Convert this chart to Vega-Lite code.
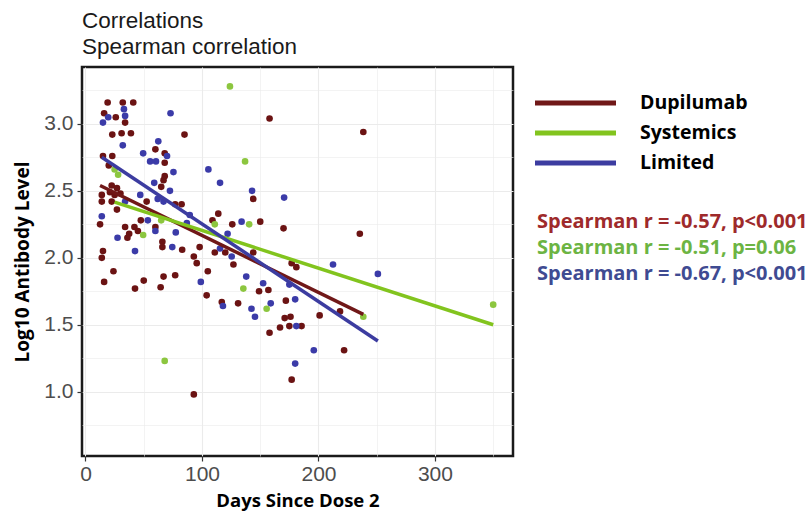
{
  "$schema": "https://vega.github.io/schema/vega-lite/v6.json",
  "width": 431,
  "height": 389,
  "autosize": {"type": "none"},
  "padding": {"left": 82, "top": 67, "right": 297, "bottom": 56},
  "background": "white",
  "title": {
    "text": "Correlations",
    "subtitle": "Spearman correlation",
    "anchor": "start",
    "frame": "group",
    "font": "Liberation Sans",
    "fontSize": 22.5,
    "fontWeight": "normal",
    "color": "#1a1a1a",
    "subtitleFont": "Liberation Sans",
    "subtitleFontSize": 22.5,
    "subtitleColor": "#1a1a1a",
    "subtitlePadding": 3,
    "offset": 9
  },
  "config": {
    "view": {"stroke": "#1a1a1a", "strokeWidth": 2.5},
    "axis": {
      "domain": false,
      "gridColor": "#ebebeb",
      "tickColor": "#333333",
      "tickSize": 5,
      "tickWidth": 1.2,
      "labelFont": "Liberation Sans",
      "labelFontSize": 21,
      "labelColor": "#4d4d4d",
      "titleFont": "Open Sans",
      "titleFontWeight": "bold",
      "titleColor": "#000000"
    }
  },
  "datasets": {
    "pts": [
      {"group": "Dupilumab", "days": 19, "level": 3.16},
      {"group": "Dupilumab", "days": 32, "level": 3.16},
      {"group": "Dupilumab", "days": 41, "level": 3.16},
      {"group": "Dupilumab", "days": 16, "level": 3.08},
      {"group": "Dupilumab", "days": 26, "level": 3.05},
      {"group": "Dupilumab", "days": 34, "level": 3.01},
      {"group": "Dupilumab", "days": 23, "level": 2.92},
      {"group": "Dupilumab", "days": 31, "level": 2.93},
      {"group": "Dupilumab", "days": 39, "level": 2.93},
      {"group": "Dupilumab", "days": 60, "level": 2.81},
      {"group": "Dupilumab", "days": 68, "level": 2.78},
      {"group": "Dupilumab", "days": 15, "level": 2.76},
      {"group": "Dupilumab", "days": 23, "level": 2.76},
      {"group": "Dupilumab", "days": 68, "level": 2.71},
      {"group": "Dupilumab", "days": 20, "level": 2.69},
      {"group": "Dupilumab", "days": 68, "level": 2.61},
      {"group": "Dupilumab", "days": 67, "level": 2.58},
      {"group": "Dupilumab", "days": 65, "level": 2.53},
      {"group": "Dupilumab", "days": 22.5, "level": 2.54},
      {"group": "Dupilumab", "days": 27, "level": 2.52},
      {"group": "Dupilumab", "days": 21, "level": 2.49},
      {"group": "Dupilumab", "days": 30, "level": 2.48},
      {"group": "Dupilumab", "days": 25, "level": 2.47},
      {"group": "Dupilumab", "days": 14, "level": 2.47},
      {"group": "Dupilumab", "days": 14, "level": 2.42},
      {"group": "Dupilumab", "days": 22.5, "level": 2.42},
      {"group": "Dupilumab", "days": 52.5, "level": 2.42},
      {"group": "Dupilumab", "days": 27, "level": 2.36},
      {"group": "Dupilumab", "days": 12.5, "level": 2.25},
      {"group": "Dupilumab", "days": 47.5, "level": 2.28},
      {"group": "Dupilumab", "days": 34, "level": 2.23},
      {"group": "Dupilumab", "days": 42, "level": 2.23},
      {"group": "Dupilumab", "days": 60, "level": 2.23},
      {"group": "Dupilumab", "days": 45, "level": 2.2},
      {"group": "Dupilumab", "days": 37.5, "level": 2.18},
      {"group": "Dupilumab", "days": 36, "level": 2.15},
      {"group": "Dupilumab", "days": 66, "level": 2.12},
      {"group": "Dupilumab", "days": 66, "level": 2.08},
      {"group": "Dupilumab", "days": 15, "level": 2.05},
      {"group": "Dupilumab", "days": 14, "level": 2.0},
      {"group": "Dupilumab", "days": 24, "level": 1.9},
      {"group": "Dupilumab", "days": 16, "level": 1.82},
      {"group": "Dupilumab", "days": 50, "level": 1.83},
      {"group": "Dupilumab", "days": 67, "level": 1.86},
      {"group": "Dupilumab", "days": 77, "level": 1.87},
      {"group": "Dupilumab", "days": 42.5, "level": 1.77},
      {"group": "Dupilumab", "days": 64.5, "level": 1.78},
      {"group": "Dupilumab", "days": 77, "level": 2.4},
      {"group": "Dupilumab", "days": 82.5, "level": 2.4},
      {"group": "Dupilumab", "days": 85, "level": 2.92},
      {"group": "Dupilumab", "days": 114, "level": 2.33},
      {"group": "Dupilumab", "days": 109, "level": 2.28},
      {"group": "Dupilumab", "days": 98, "level": 2.08},
      {"group": "Dupilumab", "days": 83, "level": 2.06},
      {"group": "Dupilumab", "days": 111, "level": 2.04},
      {"group": "Dupilumab", "days": 93, "level": 2.01},
      {"group": "Dupilumab", "days": 95.5, "level": 1.96},
      {"group": "Dupilumab", "days": 105, "level": 1.9},
      {"group": "Dupilumab", "days": 104, "level": 1.72},
      {"group": "Dupilumab", "days": 117, "level": 1.67},
      {"group": "Dupilumab", "days": 93, "level": 0.98},
      {"group": "Dupilumab", "days": 158, "level": 3.04},
      {"group": "Dupilumab", "days": 238.5, "level": 2.94},
      {"group": "Dupilumab", "days": 144, "level": 2.44},
      {"group": "Dupilumab", "days": 126, "level": 2.25},
      {"group": "Dupilumab", "days": 150, "level": 2.27},
      {"group": "Dupilumab", "days": 170, "level": 2.22},
      {"group": "Dupilumab", "days": 235.5, "level": 2.18},
      {"group": "Dupilumab", "days": 120, "level": 2.04},
      {"group": "Dupilumab", "days": 144, "level": 2.04},
      {"group": "Dupilumab", "days": 127, "level": 1.95},
      {"group": "Dupilumab", "days": 177, "level": 1.96},
      {"group": "Dupilumab", "days": 181, "level": 1.93},
      {"group": "Dupilumab", "days": 149, "level": 1.75},
      {"group": "Dupilumab", "days": 157, "level": 1.76},
      {"group": "Dupilumab", "days": 131, "level": 1.66},
      {"group": "Dupilumab", "days": 172, "level": 1.68},
      {"group": "Dupilumab", "days": 171, "level": 1.55},
      {"group": "Dupilumab", "days": 176, "level": 1.56},
      {"group": "Dupilumab", "days": 201, "level": 1.57},
      {"group": "Dupilumab", "days": 218.5, "level": 1.6},
      {"group": "Dupilumab", "days": 158, "level": 1.44},
      {"group": "Dupilumab", "days": 167, "level": 1.48},
      {"group": "Dupilumab", "days": 175, "level": 1.49},
      {"group": "Dupilumab", "days": 185.5, "level": 1.49},
      {"group": "Dupilumab", "days": 222, "level": 1.31},
      {"group": "Dupilumab", "days": 177, "level": 1.09},
      {"group": "Limited", "days": 19.5, "level": 3.05},
      {"group": "Limited", "days": 33, "level": 3.11},
      {"group": "Limited", "days": 34, "level": 3.06},
      {"group": "Limited", "days": 15, "level": 3.01},
      {"group": "Limited", "days": 73, "level": 3.08},
      {"group": "Limited", "days": 32, "level": 2.84},
      {"group": "Limited", "days": 62.5, "level": 2.87},
      {"group": "Limited", "days": 49.5, "level": 2.78},
      {"group": "Limited", "days": 70, "level": 2.76},
      {"group": "Limited", "days": 55.5, "level": 2.72},
      {"group": "Limited", "days": 60.5, "level": 2.72},
      {"group": "Limited", "days": 75.5, "level": 2.64},
      {"group": "Limited", "days": 59, "level": 2.56},
      {"group": "Limited", "days": 72.5, "level": 2.5},
      {"group": "Limited", "days": 34, "level": 2.42},
      {"group": "Limited", "days": 47, "level": 2.47},
      {"group": "Limited", "days": 62, "level": 2.44},
      {"group": "Limited", "days": 67, "level": 2.42},
      {"group": "Limited", "days": 14, "level": 2.31},
      {"group": "Limited", "days": 53.5, "level": 2.28},
      {"group": "Limited", "days": 27.5, "level": 2.15},
      {"group": "Limited", "days": 60, "level": 2.2},
      {"group": "Limited", "days": 77.5, "level": 2.19},
      {"group": "Limited", "days": 74.5, "level": 2.08},
      {"group": "Limited", "days": 42.5, "level": 2.05},
      {"group": "Limited", "days": 105.5, "level": 2.66},
      {"group": "Limited", "days": 115.5, "level": 2.56},
      {"group": "Limited", "days": 143, "level": 2.5},
      {"group": "Limited", "days": 170.5, "level": 2.45},
      {"group": "Limited", "days": 89.5, "level": 2.32},
      {"group": "Limited", "days": 87, "level": 2.26},
      {"group": "Limited", "days": 134, "level": 2.27},
      {"group": "Limited", "days": 122, "level": 2.18},
      {"group": "Limited", "days": 115.5, "level": 2.07},
      {"group": "Limited", "days": 125.5, "level": 2.01},
      {"group": "Limited", "days": 138, "level": 1.86},
      {"group": "Limited", "days": 99, "level": 1.82},
      {"group": "Limited", "days": 118, "level": 1.64},
      {"group": "Limited", "days": 212.5, "level": 1.95},
      {"group": "Limited", "days": 152.5, "level": 1.81},
      {"group": "Limited", "days": 175, "level": 1.8},
      {"group": "Limited", "days": 159, "level": 1.66},
      {"group": "Limited", "days": 180, "level": 1.69},
      {"group": "Limited", "days": 142.5, "level": 1.62},
      {"group": "Limited", "days": 145.5, "level": 1.56},
      {"group": "Limited", "days": 181, "level": 1.49},
      {"group": "Limited", "days": 196, "level": 1.31},
      {"group": "Limited", "days": 180, "level": 1.21},
      {"group": "Limited", "days": 251, "level": 1.88},
      {"group": "Systemics", "days": 25, "level": 2.66},
      {"group": "Systemics", "days": 28, "level": 2.62},
      {"group": "Systemics", "days": 49.5, "level": 2.17},
      {"group": "Systemics", "days": 65, "level": 2.28},
      {"group": "Systemics", "days": 111, "level": 2.25},
      {"group": "Systemics", "days": 140.5, "level": 2.25},
      {"group": "Systemics", "days": 124, "level": 3.28},
      {"group": "Systemics", "days": 137, "level": 2.72},
      {"group": "Systemics", "days": 135.5, "level": 1.77},
      {"group": "Systemics", "days": 155.5, "level": 1.62},
      {"group": "Systemics", "days": 238.5, "level": 1.56},
      {"group": "Systemics", "days": 350, "level": 1.65},
      {"group": "Systemics", "days": 68, "level": 1.23}
    ],
    "fit": [
      {"treatment": "Dupilumab", "days": 12.5, "level": 2.54},
      {"treatment": "Dupilumab", "days": 238.5, "level": 1.578},
      {"treatment": "Systemics", "days": 25, "level": 2.416},
      {"treatment": "Systemics", "days": 350, "level": 1.5},
      {"treatment": "Limited", "days": 14, "level": 2.751},
      {"treatment": "Limited", "days": 251, "level": 1.379}
    ]
  },
  "encoding": {
    "x": {
      "field": "days",
      "type": "quantitative",
      "scale": {"domain": [-3, 367], "nice": false, "zero": false},
      "axis": {
        "values": [0, 50, 100, 150, 200, 250, 300, 350],
        "labelExpr": "datum.value % 100 === 0 ? datum.label : ''",
        "tickOpacity": {"condition": {"test": "datum.value % 100 !== 0", "value": 0}, "value": 1},
        "gridWidth": {"condition": {"test": "datum.value % 100 !== 0", "value": 0.6}, "value": 1.1},
        "labelPadding": 2,
        "title": "Days Since Dose 2",
        "titleFontSize": 18.5,
        "titlePadding": 7
      }
    },
    "y": {
      "field": "level",
      "type": "quantitative",
      "scale": {"domain": [0.52, 3.425], "nice": false, "zero": false},
      "axis": {
        "values": [0.75, 1, 1.25, 1.5, 1.75, 2, 2.25, 2.5, 2.75, 3, 3.25],
        "labelExpr": "(datum.value * 2) % 1 === 0 ? format(datum.value, '.1f') : ''",
        "tickOpacity": {"condition": {"test": "(datum.value * 2) % 1 !== 0", "value": 0}, "value": 1},
        "gridWidth": {"condition": {"test": "(datum.value * 2) % 1 !== 0", "value": 0.6}, "value": 1.1},
        "labelPadding": 4,
        "title": "Log10 Antibody Level",
        "titleFontSize": 19,
        "titlePadding": 11
      }
    }
  },
  "layer": [
    {
      "data": {"name": "pts"},
      "mark": {"type": "circle", "size": 44, "opacity": 1},
      "encoding": {
        "fill": {
          "field": "group",
          "type": "nominal",
          "sort": ["Dupilumab", "Systemics", "Limited"],
          "scale": {"range": ["#6b1313", "#8cc63f", "#3b3ba8"]},
          "legend": {
            "title": null,
            "orient": "none",
            "legendX": 435,
            "legendY": 145,
            "padding": 0,
            "symbolSize": 0,
            "symbolOpacity": 0,
            "labelOffset": 0,
            "rowPadding": 6,
            "labelFont": "Open Sans",
            "labelFontWeight": "bold",
            "labelFontSize": 20,
            "labelLimit": 500,
            "labelExpr": "datum.value === 'Dupilumab' ? 'Spearman r = -0.57, p<0.001' : datum.value === 'Systemics' ? 'Spearman r = -0.51, p=0.06' : 'Spearman r = -0.67, p<0.001'",
            "encode": {
              "labels": {
                "update": {
                  "fill": [
                    {"test": "datum.value === 'Dupilumab'", "value": "#9e2a2b"},
                    {"test": "datum.value === 'Systemics'", "value": "#6cb443"},
                    {"value": "#3f4b92"}
                  ]
                }
              }
            }
          }
        }
      }
    },
    {
      "data": {"name": "fit"},
      "mark": {"type": "line", "strokeWidth": 3.5},
      "encoding": {
        "stroke": {
          "field": "treatment",
          "type": "nominal",
          "scale": {"domain": ["Dupilumab", "Systemics", "Limited"], "range": ["#701818", "#82c41e", "#3c3ca0"]},
          "legend": {
            "title": null,
            "orient": "none",
            "legendX": 480.5,
            "legendY": 23,
            "padding": 0,
            "symbolType": "M-4,0H4",
            "symbolSize": 410,
            "symbolStrokeWidth": 5,
            "labelOffset": 51.5,
            "rowPadding": 7,
            "labelFont": "Open Sans",
            "labelFontWeight": "bold",
            "labelFontSize": 19.5,
            "labelColor": "#000000",
            "encode": {
              "symbols": {
                "update": {
                  "stroke": [
                    {"test": "datum.value === 'Dupilumab'", "value": "#a32a2a"},
                    {"test": "datum.value === 'Systemics'", "value": "#7dc242"},
                    {"value": "#3b4a9a"}
                  ]
                }
              }
            }
          }
        }
      }
    }
  ]
}
